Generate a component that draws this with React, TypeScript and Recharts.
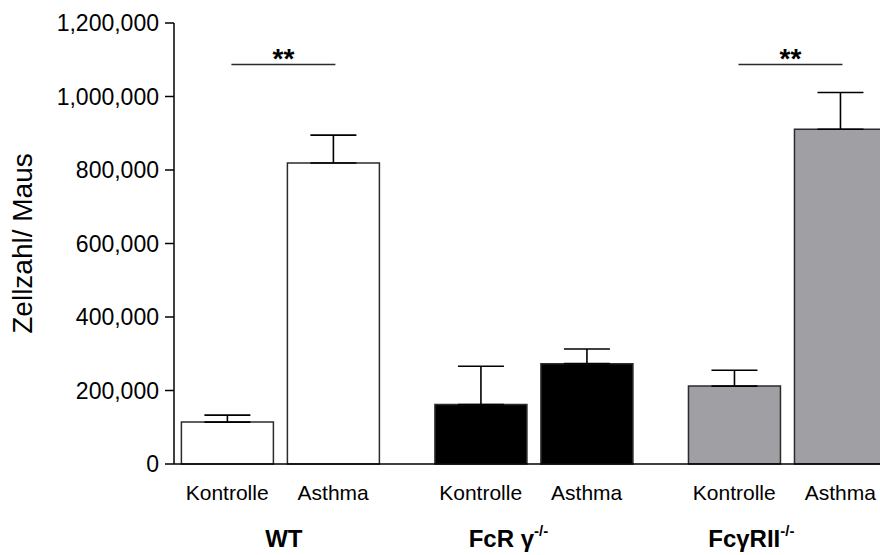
import { Bar, BarChart, Cell, ErrorBar, LabelList, XAxis, YAxis } from "recharts";

// data (cells per mouse)
const groups = ["WT", "FcR γ", "FcγRII"];
const groupSup = ["", "-/-", "-/-"];
const conditions = ["Kontrolle", "Asthma"];
const kontrolle = [114000, 162000, 212000];
const kontrolleSem = [19000, 104000, 43000];
const asthma = [819000, 273000, 911000];
const asthmaSem = [76000, 40000, 100000];
const significance = ["**", "", "**"];
const bracketLevel = 1087000;
const yTicks = [0, 200000, 400000, 600000, 800000, 1000000, 1200000];

const FONT = '"Liberation Sans", Arial, Helvetica, sans-serif';
const BAR = 92;
const GAP = 14;
const groupFills = ["#ffffff", "#000000", "#a09fa4"];
const EDGE = "#2b2b2b";
// group captions are left-aligned, not centred, in the original
const GROUP_LABEL_DX = [-15, -65, -79];

const data = groups.map((g, i) => ({
    group: g,
    kontrolle: kontrolle[i],
    asthma: asthma[i],
    kErr: [0, kontrolleSem[i]],
    aErr: [0, asthmaSem[i]],
}));

function GroupTick(props: any) {
    const { x, y, payload } = props;
    const i = groups.indexOf(payload.value);
    const off = (BAR + GAP) / 2;
    return (
        <g fontFamily={FONT} fill="#000">
            <text x={x - off} y={y + 36} textAnchor="middle" fontSize={21}>
                {conditions[0]}
            </text>
            <text x={x + off} y={y + 36} textAnchor="middle" fontSize={21}>
                {conditions[1]}
            </text>
            <text x={x + GROUP_LABEL_DX[i]} y={y + 83} textAnchor="start" fontSize={24} fontWeight="bold">
                {groups[i]}
                {groupSup[i] && (
                    <tspan fontSize={15} dy={-11}>
                        {groupSup[i]}
                    </tspan>
                )}
            </text>
        </g>
    );
}

function Bracket(props: any) {
    const vb = props.viewBox ?? props;
    const { x, y, width, height } = vb;
    const i = props.index;
    if (i == null || !significance[i]) return null;
    const base = y + height;
    const by = base - (bracketLevel * height) / asthma[i];
    const cx = x + width / 2;
    return (
        <g>
            <line x1={cx - (BAR + GAP) + 4} x2={cx + 2} y1={by} y2={by} stroke={EDGE} strokeWidth={1.6} />
            <text x={cx - (BAR + GAP) / 2 + 3} y={by + 3} textAnchor="middle" fontFamily={FONT} fontSize={28} fontWeight="bold">
                {significance[i]}
            </text>
        </g>
    );
}

function YLabel(props: any) {
    const vb = props.viewBox;
    const cx = 32;
    const cy = vb.y + vb.height / 2;
    return (
        <text x={cx} y={cy} transform={`rotate(-90, ${cx}, ${cy})`} textAnchor="middle" fontFamily={FONT} fontSize={28} fill="#000">
            Zellzahl/ Maus
        </text>
    );
}

export default function App() {
    return (
        <div style={{ position: "fixed", left: 0, top: 0, width: 880, height: 555, overflow: "hidden", background: "#fff" }}>
            <BarChart
                width={914}
                height={555}
                data={data}
                margin={{ top: 23, right: 0, bottom: 0, left: 0 }}
                barSize={BAR}
                barGap={GAP}
            >
                <XAxis
                    dataKey="group"
                    height={91}
                    padding={{ left: -20.6, right: 0 }}
                    axisLine={{ stroke: "#000", strokeWidth: 1.5 }}
                    tickLine={false}
                    tickSize={0}
                    tickMargin={0}
                    interval={0}
                    tick={<GroupTick />}
                />
                <YAxis
                    width={174}
                    domain={[0, 1200000]}
                    ticks={yTicks}
                    interval={0}
                    tickFormatter={(v: number) => v.toLocaleString("en-US")}
                    tick={{ fill: "#000", fontSize: 23, fontFamily: FONT }}
                    axisLine={{ stroke: "#000", strokeWidth: 1.5 }}
                    tickLine={{ stroke: "#000", strokeWidth: 1.5 }}
                    tickSize={9}
                    tickMargin={6}
                    label={{ content: <YLabel /> }}
                />
                <Bar dataKey="kontrolle" stroke={EDGE} strokeWidth={1.5} isAnimationActive={false}>
                    {data.map((d, i) => (
                        <Cell key={d.group} fill={groupFills[i]} />
                    ))}
                    <ErrorBar dataKey="kErr" width={23} stroke="#000" strokeWidth={1.6} direction="y" />
                </Bar>
                <Bar dataKey="asthma" stroke={EDGE} strokeWidth={1.5} isAnimationActive={false}>
                    {data.map((d, i) => (
                        <Cell key={d.group} fill={groupFills[i]} />
                    ))}
                    <ErrorBar dataKey="aErr" width={23} stroke="#000" strokeWidth={1.6} direction="y" />
                    <LabelList dataKey="asthma" content={<Bracket />} />
                </Bar>
            </BarChart>
        </div>
    );
}
